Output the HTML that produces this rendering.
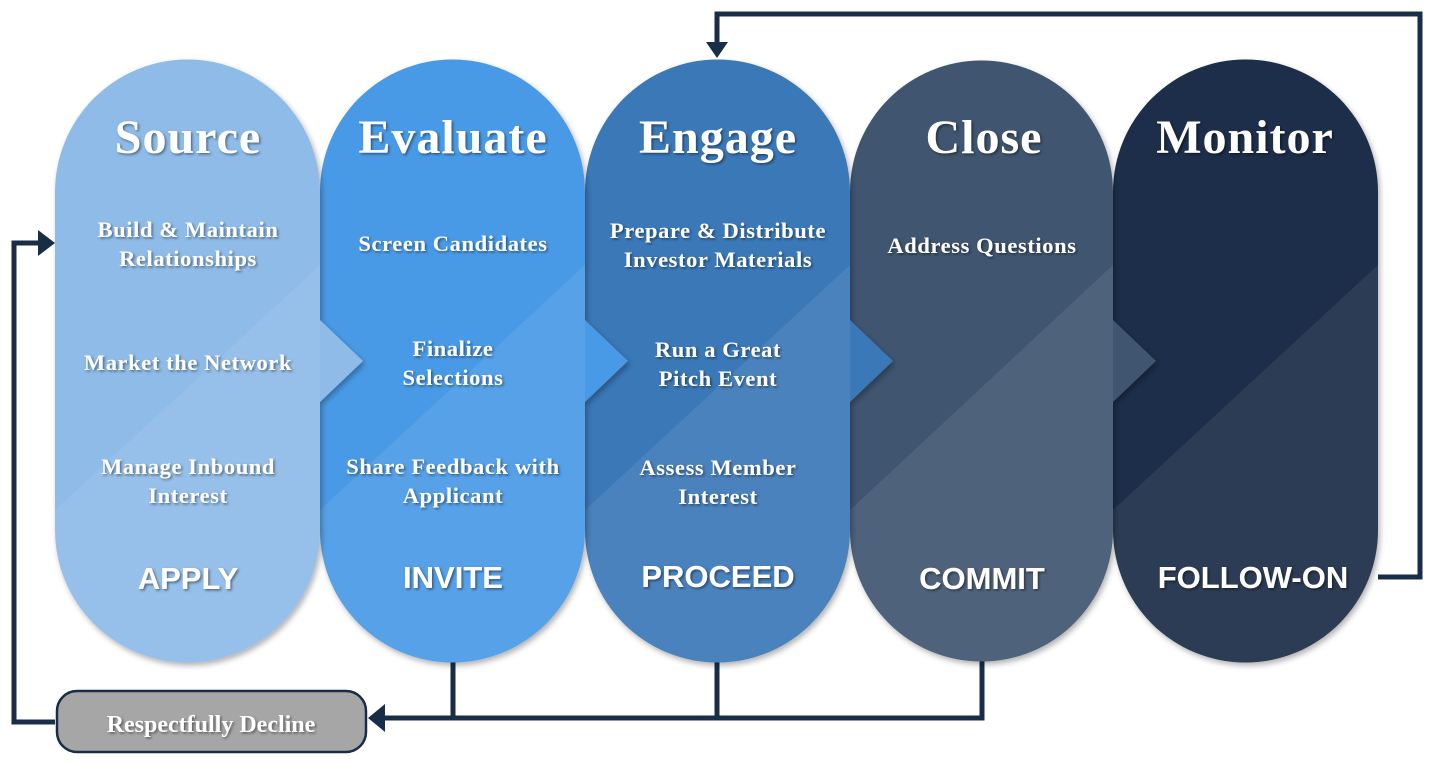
<!DOCTYPE html>
<html><head><meta charset="utf-8"><style>
html,body{margin:0;padding:0;background:#fff}
svg{display:block}
.t{font-family:"Liberation Serif",serif;font-weight:bold;fill:#fff;text-anchor:middle}
.s{font-family:"Liberation Sans",sans-serif;font-weight:bold;fill:#fff;text-anchor:middle;font-size:31px}
</style></head><body>
<svg width="1435" height="763" viewBox="0 0 1435 763" xmlns="http://www.w3.org/2000/svg">
<defs>
<filter id="sh" x="-10%" y="-10%" width="130%" height="130%"><feDropShadow dx="2" dy="3" stdDeviation="3" flood-opacity="0.3"/></filter>
<filter id="ts"><feDropShadow dx="1.5" dy="1.5" stdDeviation="1.2" flood-opacity="0.45"/></filter>
<path id="p5" d="M1113,192 A132.5,132.5 0 0 1 1378,192 L1378,530 A132.5,132.5 0 0 1 1113,530 Z"/>
<path id="p4" d="M850,192 A131.5,131.5 0 0 1 1113,192 L1113,320 L1156,361 L1113,402 L1113,530 A131.5,131.5 0 0 1 850,530 Z"/>
<path id="p3" d="M585,192 A132.5,132.5 0 0 1 850,192 L850,320 L893,361 L850,402 L850,530 A132.5,132.5 0 0 1 585,530 Z"/>
<path id="p2" d="M320,192 A132.5,132.5 0 0 1 585,192 L585,320 L628,361 L585,402 L585,530 A132.5,132.5 0 0 1 320,530 Z"/>
<path id="p1" d="M55,192 A132.5,132.5 0 0 1 320,192 L320,320 L363,361 L320,402 L320,530 A132.5,132.5 0 0 1 55,530 Z"/>
<clipPath id="c5"><use href="#p5"/></clipPath>
<clipPath id="c4"><use href="#p4"/></clipPath>
<clipPath id="c3"><use href="#p3"/></clipPath>
<clipPath id="c2"><use href="#p2"/></clipPath>
<clipPath id="c1"><use href="#p1"/></clipPath>
</defs>
<g stroke="#182d47" stroke-width="5" fill="none">
<polyline points="1378,577 1420,577 1420,14 717,14 717,45"/>
<polyline points="55,722 14,722 14,243 40,243"/>
<polyline points="453,660 453,718 380,718"/>
<polyline points="717,660 717,718"/>
<polyline points="982,660 982,718 453,718"/>
</g>
<polygon points="706,42 728,42 717,58" fill="#182d47"/>
<polygon points="38,230 38,256 55,243" fill="#182d47"/>
<polygon points="385,704 385,732 368,718" fill="#182d47"/>
<g filter="url(#sh)"><use href="#p5" fill="#1a2e48"/></g>
<polygon clip-path="url(#c5)" points="1113,510 1378,265 1378,700 1113,700" fill="#fff" opacity="0.07"/>
<g filter="url(#sh)"><use href="#p4" fill="#3f5570"/></g>
<polygon clip-path="url(#c4)" points="850,510 1113,265 1113,700 850,700" fill="#fff" opacity="0.08"/>
<g filter="url(#sh)"><use href="#p3" fill="#3a78b8"/></g>
<polygon clip-path="url(#c3)" points="585,510 850,265 850,700 585,700" fill="#fff" opacity="0.08"/>
<g filter="url(#sh)"><use href="#p2" fill="#4a9ae6"/></g>
<polygon clip-path="url(#c2)" points="320,510 585,265 585,700 320,700" fill="#fff" opacity="0.08"/>
<g filter="url(#sh)"><use href="#p1" fill="#8fbbe8"/></g>
<polygon clip-path="url(#c1)" points="55,510 320,265 320,700 55,700" fill="#fff" opacity="0.07"/>
<rect x="57" y="691" width="309" height="61" rx="20" fill="#a6a6a6" stroke="#182d47" stroke-width="2.5"/>
<g filter="url(#ts)">
<text class="t" x="211" y="732" font-size="24">Respectfully Decline</text>
<g font-size="48" letter-spacing="1">
<text class="t" x="188" y="153">Source</text>
<text class="t" x="453" y="153">Evaluate</text>
<text class="t" x="718" y="153">Engage</text>
<text class="t" x="984" y="153">Close</text>
<text class="t" x="1245" y="153">Monitor</text>
</g>
<g font-size="22.5" letter-spacing="0.6">
<text class="t" x="188" y="237">Build &amp; Maintain</text>
<text class="t" x="188" y="266">Relationships</text>
<text class="t" x="188" y="370">Market the Network</text>
<text class="t" x="188" y="474">Manage Inbound</text>
<text class="t" x="188" y="503">Interest</text>
<text class="t" x="453" y="251">Screen Candidates</text>
<text class="t" x="453" y="356">Finalize</text>
<text class="t" x="453" y="385">Selections</text>
<text class="t" x="453" y="474">Share Feedback with</text>
<text class="t" x="453" y="503">Applicant</text>
<text class="t" x="718" y="238">Prepare &amp; Distribute</text>
<text class="t" x="718" y="267">Investor Materials</text>
<text class="t" x="718" y="357">Run a Great</text>
<text class="t" x="718" y="386">Pitch Event</text>
<text class="t" x="718" y="475">Assess Member</text>
<text class="t" x="718" y="504">Interest</text>
<text class="t" x="982" y="253">Address Questions</text>
</g>
<text class="s" x="188" y="589">APPLY</text>
<text class="s" x="453" y="588">INVITE</text>
<text class="s" x="718" y="587">PROCEED</text>
<text class="s" x="982" y="589">COMMIT</text>
<text class="s" x="1253" y="588">FOLLOW-ON</text>
</g>
</svg>
</body></html>
